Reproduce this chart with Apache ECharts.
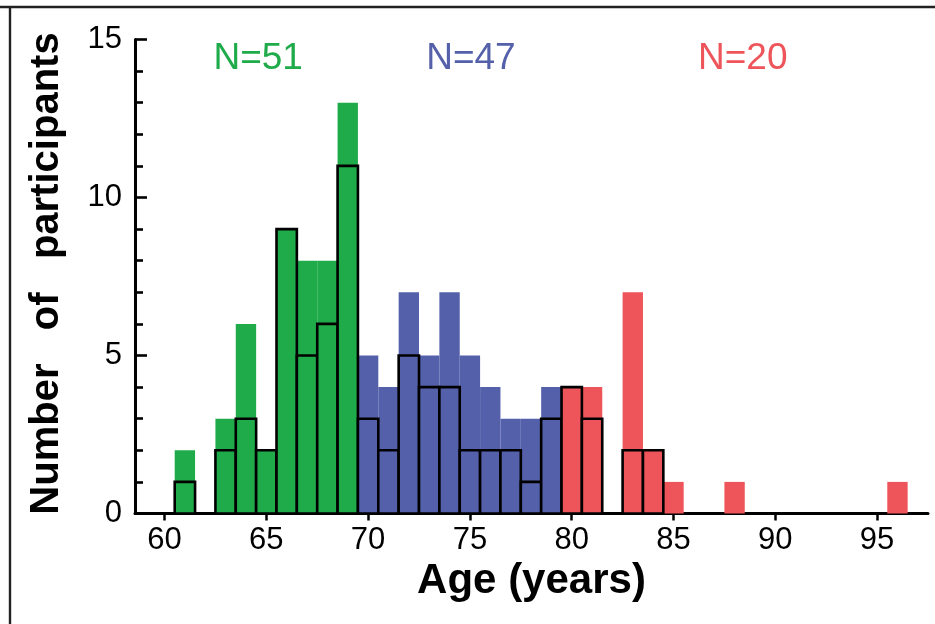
<!DOCTYPE html>
<html>
<head>
<meta charset="utf-8">
<script src="https://cdn.jsdelivr.net/npm/echarts@6/dist/echarts.min.js"></script>
<style>
  html, body { margin: 0; padding: 0; background: #fff; }
  #chart { width: 935px; height: 624px; }
</style>
</head>
<body>
<div id="chart"></div>
<script>
// ---- data ----
const greenAges   = [61, 62, 63, 64, 65, 66, 67, 68, 69];
const greenTotal  = [2, 0, 3, 6, 2, 9, 8, 8, 13];
const greenSubset = [1, 0, 2, 3, 2, 9, 5, 6, 11];

const blueAges   = [70, 71, 72, 73, 74, 75, 76, 77, 78, 79];
const blueTotal  = [5, 4, 7, 5, 7, 5, 4, 3, 3, 4];
const blueSubset = [3, 2, 5, 4, 4, 2, 2, 2, 1, 3];

const redAges   = [80, 81, 82, 83, 84, 85, 88, 96];
const redTotal  = [4, 4, 0, 7, 2, 1, 1, 1];
const redSubset = [4, 3, 0, 2, 2, 0, 0, 0];

const xTicks = [60, 65, 70, 75, 80, 85, 90, 95];

const groupLabels = ['N=51', 'N=47', 'N=20'];
const labelX = [64.6, 75.05, 88.4];
const labelY = [14.38, 14.38, 14.38];

const GREEN = '#1fab4a';
const BLUE = '#5460aa';
const RED = '#ee555a';
const labelColors = [GREEN, BLUE, RED];

function pairs(ages, vals) {
  const out = [];
  for (let i = 0; i < ages.length; i++) if (vals[i] > 0) out.push([ages[i], vals[i]]);
  return out;
}

function barRenderer(fill, outlined) {
  return function (params, api) {
    const x = api.value(0), y = api.value(1);
    const p0 = api.coord([x - 0.5, y]);
    const p1 = api.coord([x + 0.5, 0]);
    return {
      type: 'rect',
      shape: { x: p0[0], y: p0[1], width: p1[0] - p0[0], height: p1[1] - p0[1] },
      style: outlined
        ? { fill: fill, stroke: '#000', lineWidth: 2.6 }
        : { fill: fill }
    };
  };
}

function barSeries(ages, vals, color, outlined) {
  return {
    type: 'custom',
    renderItem: barRenderer(color, outlined),
    data: pairs(ages, vals),
    encode: { x: 0, y: 1 },
    z: outlined ? 3 : 2,
    silent: true
  };
}

const chart = echarts.init(document.getElementById('chart'), null, { renderer: 'canvas' });

const TICK_FONT = '"Liberation Sans", Arial, sans-serif';

chart.setOption({
  animation: false,
  backgroundColor: '#fff',
  grid: { left: 135, right: 7, top: 39.5, bottom: 110.5, containLabel: false },
  xAxis: {
    type: 'value',
    min: 58.55,
    max: 97.5,
    name: 'Age (years)',
    nameLocation: 'middle',
    nameGap: 45,
    nameTextStyle: { fontFamily: TICK_FONT, fontWeight: 'bold', fontSize: 42, color: '#000' },
    axisLine: { show: true, onZero: false, lineStyle: { color: '#000', width: 3 } },
    axisTick: { show: true, inside: false, length: 7, customValues: xTicks, lineStyle: { color: '#000', width: 2.5 } },
    axisLabel: { show: true, customValues: xTicks, margin: 11, fontFamily: TICK_FONT, fontSize: 31, color: '#000' },
    splitLine: { show: false },
    minorTick: { show: false }
  },
  yAxis: {
    type: 'value',
    min: 0,
    max: 15,
    interval: 5,
    name: 'Number   of   participants',
    nameLocation: 'middle',
    nameRotate: 90,
    nameGap: 68,
    nameTextStyle: { fontFamily: TICK_FONT, fontWeight: 'bold', fontSize: 40, color: '#000', padding: [0, 0, 0, 6] },
    axisLine: { show: true, lineStyle: { color: '#000', width: 3 } },
    axisTick: { show: true, inside: true, length: 12, lineStyle: { color: '#000', width: 2.6 } },
    minorTick: { show: true, splitNumber: 5, length: 8, lineStyle: { color: '#000', width: 2.6 } },
    axisLabel: { show: true, margin: 13, fontFamily: TICK_FONT, fontSize: 31, color: '#000' },
    splitLine: { show: false },
    minorSplitLine: { show: false }
  },
  graphic: [
    { type: 'line', shape: { x1: 0, y1: 7, x2: 935, y2: 7 }, style: { stroke: '#222', lineWidth: 2.4 }, silent: true },
    { type: 'line', shape: { x1: 10, y1: 7, x2: 10, y2: 624 }, style: { stroke: '#222', lineWidth: 2.4 }, silent: true }
  ],
  series: [
    barSeries(greenAges, greenTotal, GREEN, false),
    barSeries(blueAges, blueTotal, BLUE, false),
    barSeries(redAges, redTotal, RED, false),
    barSeries(greenAges, greenSubset, GREEN, true),
    barSeries(blueAges, blueSubset, BLUE, true),
    barSeries(redAges, redSubset, RED, true),
    {
      type: 'custom',
      silent: true,
      z: 5,
      data: groupLabels.map((t, i) => [labelX[i], labelY[i], i]),
      encode: { x: 0, y: 1 },
      renderItem: function (params, api) {
        const i = api.value(2);
        const p = api.coord([api.value(0), api.value(1)]);
        return {
          type: 'text',
          x: p[0], y: p[1],
          style: {
            text: groupLabels[i],
            fill: labelColors[i],
            font: '37px "Liberation Sans", Arial, sans-serif',
            align: 'center',
            verticalAlign: 'middle'
          }
        };
      }
    }
  ]
});
</script>
</body>
</html>
